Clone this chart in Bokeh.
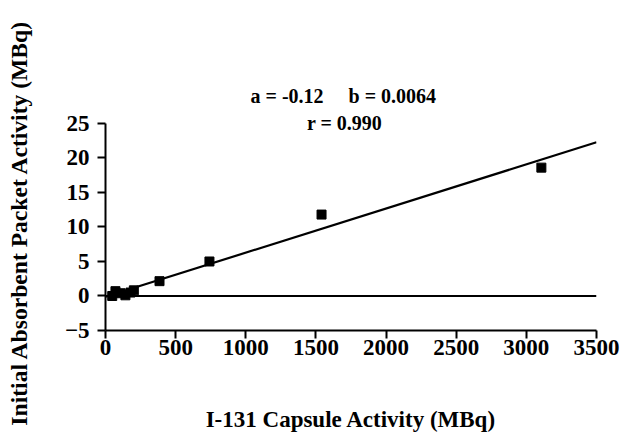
from bokeh.plotting import figure
from bokeh.models import Range1d, FixedTicker, Label
from bokeh.embed import file_html
from bokeh.resources import INLINE

capsule_mbq = [48, 71, 107, 142, 178, 202, 385, 741, 1540, 3107]
packet_mbq = [0.0, 0.7, 0.4, 0.1, 0.5, 0.82, 2.15, 5.0, 11.8, 18.6]
fit_a = -0.12
fit_b = 0.0064
fit_r = 0.990
x_ticks = [0, 500, 1000, 1500, 2000, 2500, 3000, 3500]
y_ticks = [-5, 0, 5, 10, 15, 20, 25]

FONT = "Liberation Serif"

# frame reaches slightly above 25 so "r = ..." fits inside; axis bounded to -5..25
p = figure(width=623, height=439, output_backend="svg", toolbar_location=None,
           x_range=Range1d(0, 3500), y_range=Range1d(-5, 26.30),
           min_border_left=105, min_border_right=27, min_border_top=114,
           min_border_bottom=109)
p.outline_line_color = None
p.grid.visible = False
p.background_fill_color = "white"
p.yaxis.bounds = (-5, 25)

gap = "\u00a0" * 5
p.title.text = f"a = {fit_a}{gap}b = {fit_b}"
p.title.align = "left"
p.title.offset = 145
p.title.standoff = 15
p.title.text_font = FONT
p.title.text_font_style = "bold"
p.title.text_font_size = "20px"
p.title.text_color = "black"

xs_fit = [0, 3500]
ys_fit = [fit_a + fit_b * x for x in xs_fit]
p.line(xs_fit, ys_fit, line_color="black", line_width=2.2)
p.line([0, 3500], [0, 0], line_color="black", line_width=2.2)
p.scatter(capsule_mbq, packet_mbq, marker="square", size=9, color="black")

for ax in (p.xaxis[0], p.yaxis[0]):
    ax.axis_line_width = 2
    ax.axis_line_color = "black"
    ax.major_tick_line_width = 2
    ax.major_tick_line_color = "black"
    ax.major_tick_out = 8
    ax.major_tick_in = 0
    ax.minor_tick_line_color = None
    ax.major_label_text_font = FONT
    ax.major_label_text_font_style = "bold"
    ax.major_label_text_font_size = "23px"
    ax.major_label_text_color = "black"
    ax.axis_label_text_font = FONT
    ax.axis_label_text_font_style = "bold"
    ax.axis_label_text_color = "black"

p.xaxis.axis_label_text_font_size = "23px"
p.yaxis.axis_label_text_font_size = "23.6px"
p.xaxis.ticker = FixedTicker(ticks=x_ticks)
p.yaxis.ticker = FixedTicker(ticks=y_ticks)
p.xaxis.axis_label = "I-131 Capsule Activity (MBq)"
p.yaxis.axis_label = "Initial Absorbent Packet Activity (MBq)"
p.xaxis.major_label_standoff = 1
p.yaxis.major_label_standoff = 8
p.xaxis.axis_label_standoff = 49
p.yaxis.axis_label_standoff = 30

p.add_layout(Label(x=1704, y=25.14,
                   text=f"r = {fit_r:.3f}",
                   text_font=FONT, text_font_style="bold", text_font_size="20px",
                   text_color="black",
                   text_align="center", text_baseline="middle"))

open("out.html", "w").write(file_html(p, INLINE))
